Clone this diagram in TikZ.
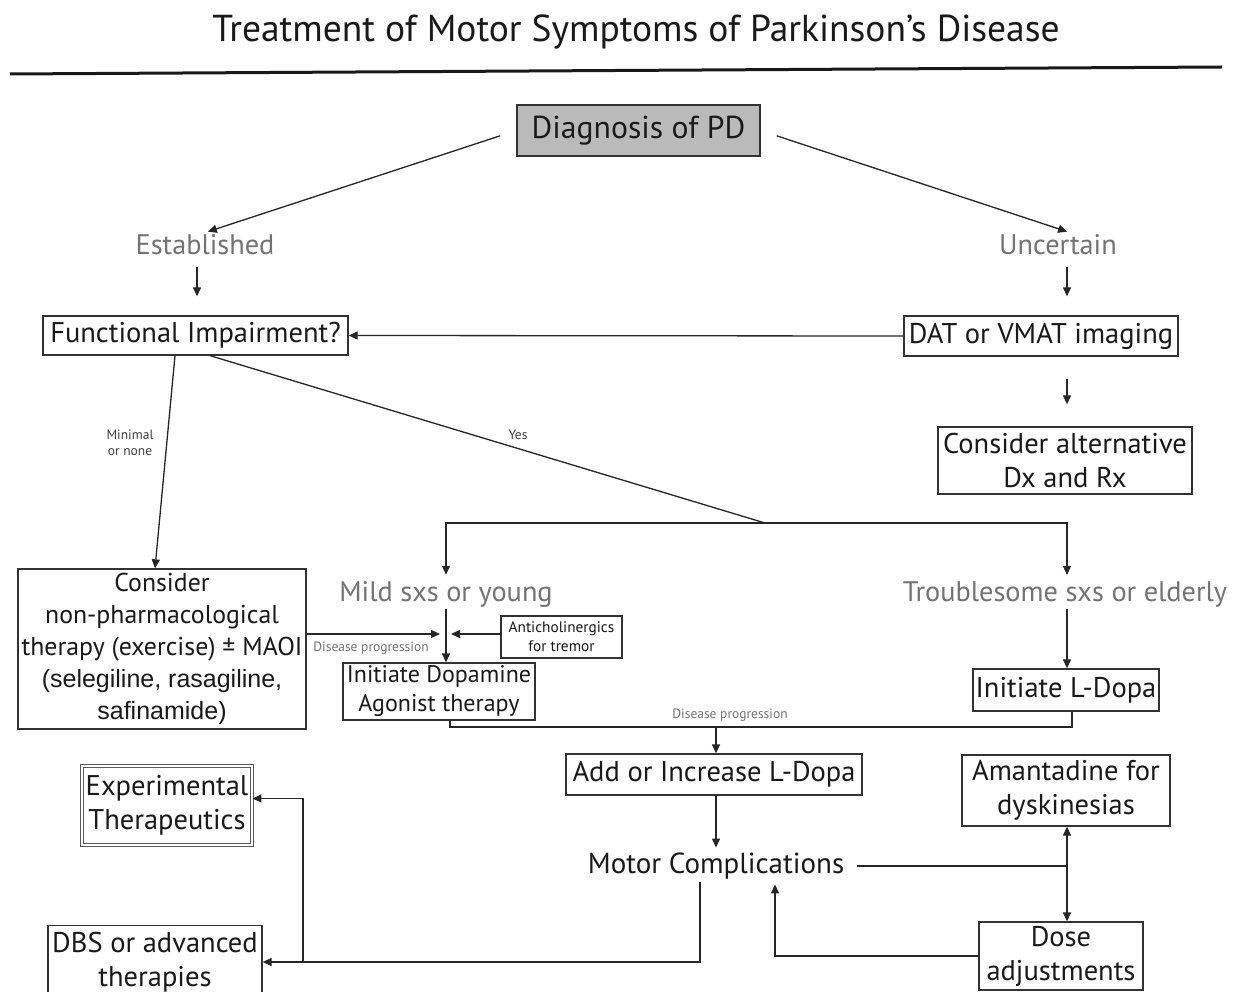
\documentclass[tikz,border=0pt]{standalone}
\usepackage{fontspec}
\setmainfont{PT Sans}
\newfontfamily\arialf{Liberation Sans}
\usetikzlibrary{arrows.meta,calc}
\begin{document}
\begin{tikzpicture}[x=1pt,y=-1pt,
 box/.style={draw=black!80, line width=1.3pt, align=center, inner sep=0pt, text=black!90, font=\fontsize{28.5}{34}\selectfont},
 lbl/.style={text=black!55, font=\fontsize{28.3}{32}\selectfont, inner sep=2pt},
 small/.style={font=\fontsize{13.5}{16}\selectfont, align=center, inner sep=1pt, text=black!75},
 arr/.style={-{Triangle[length=9pt,width=8pt]}, line width=1.3pt, draw=black!85},
 ln/.style={line width=1.3pt, draw=black!85},
]
\useasboundingbox (0,0) rectangle (1237,992);
\fill[white] (0,0) rectangle (1237,992);
% title
\node[font=\fontsize{37.5}{42}\selectfont, text=black!90] (title) at (636,32) {Treatment of Motor Symptoms of Parkinson’s Disease};
\draw[line width=3pt, black!90] (10,74) -- (1222,67);

% nodes
\node[box, minimum width=243pt, minimum height=51pt, fill=black!27, font=\fontsize{31.7}{36}\selectfont] (diag) at (638.5,130.5) {Diagnosis of PD};
\node[lbl] (est) at (205,245) {Established};
\node[lbl] (unc) at (1058,245) {Uncertain};
\node[box, minimum width=305pt, minimum height=39pt] (func) at (195.5,335.5) {Functional Impairment?};
\node[box, minimum width=274pt, minimum height=40pt] (dat) at (1041,336) {DAT or VMAT imaging};
\node[box, minimum width=254pt, minimum height=67pt] (alt) at (1065,460.5) {Consider alternative\\Dx and Rx};
\node[small] (minimal) at (130,443) {Minimal\\or none};
\node[small] (yes) at (518,435) {Yes};
\coordinate (split) at (765,523);
\node[lbl] (mild) at (446,594) {Mild sxs or young};
\node[lbl] (trouble) at (1065,594) {Troublesome sxs or elderly};
\node[box, minimum width=288pt, minimum height=160pt, font=\fontsize{25.8}{32}\selectfont] (cons) at (162,649) {Consider\\non-pharmacological\\therapy (exercise) ± MAOI\\{\arialf\fontsize{25}{29}\selectfont (selegiline, rasagiline,}\\{\arialf\fontsize{25}{29}\selectfont safinamide)}};
\coordinate (jn) at (446,634);
\node[box, minimum width=121pt, minimum height=42pt, font=\fontsize{15.3}{19}\selectfont] (anti) at (561.5,637) {Anticholinergics\\for tremor};
\node[small, text=black!55] (dp1) at (371,648) {Disease progression};
\node[box, minimum width=192pt, minimum height=57pt, font=\fontsize{24}{29}\selectfont] (dopa) at (439,691.5) {Initiate Dopamine\\Agonist therapy};
\node[box, minimum width=186pt, minimum height=42pt] (ldopa) at (1066,690) {Initiate L-Dopa};
\coordinate (dp) at (716,727);
\node[small, text=black!55] (dp2) at (730,715) {Disease progression};
\node[box, minimum width=296pt, minimum height=41pt] (add) at (714,774.5) {Add or Increase L-Dopa};
\node[box, minimum width=208pt, minimum height=71pt] (aman) at (1066,790.5) {Amantadine for\\dyskinesias};
\node[font=\fontsize{29}{32}\selectfont, text=black!90, inner sep=3pt] (motor) at (716,866) {Motor Complications};
\coordinate (mj) at (1067,866);
\node[box, minimum width=164pt, minimum height=68pt] (dose) at (1061,956) {Dose\\adjustments};
\node[box, minimum width=170pt, minimum height=79pt, draw=black!65, line width=0.9pt, double, double distance=2.2pt] (exp) at (167,805.5) {Experimental\\Therapeutics};
\node[box, minimum width=214pt, minimum height=73pt] (dbs) at (155,962) {DBS or advanced\\therapies};
\coordinate (br) at (303,962);

% connectors
\draw[arr, shorten <=17pt, shorten >=3pt] (diag.west) -- (est.north);
\draw[arr, shorten <=17pt, shorten >=3pt] (diag.east) -- ([xshift=12pt]unc.north);
\draw[arr, shorten <=10pt, shorten >=19pt] ([xshift=-8pt]est.south) -- ([xshift=-8pt]est.south |- func.north);
\draw[arr, shorten <=10pt, shorten >=19pt] ([xshift=9pt]unc.south) -- ([xshift=9pt]unc.south |- dat.north);
\draw[arr] (dat.west) -- (func.east);
\draw[arr, shorten <=22pt, shorten >=22pt] ([xshift=2pt]alt.north |- dat.south) -- ([xshift=2pt]alt.north);
\draw[arr] ([xshift=-20.5pt]func.south) -- ([xshift=-7pt]cons.north);
\draw[ln] ([xshift=14.5pt]func.south) -- (split);
\draw[arr, shorten >=4pt] (split) -| (mild.north);
\draw[arr, shorten >=4pt] (split) -| ([xshift=2pt]trouble.north);
\draw[arr] ([xshift=2pt]trouble.south) -- ([xshift=2pt]trouble.south |- ldopa.north);
\draw[arr, shorten >=6pt] (cons.east |- jn) -- (jn);
\draw[arr, shorten >=5pt] (anti.west |- jn) -- (jn);
\draw[arr] (mild.south) -- (mild.south |- dopa.north);
\draw[ln] ([xshift=11pt]dopa.south) -- ([xshift=11pt]dopa.south |- dp) -- ([xshift=6pt]ldopa.south |- dp) -- ([xshift=6pt]ldopa.south);
\draw[arr] (dp) -- (dp |- add.north);
\draw[arr, shorten >=2pt] ([xshift=2pt]add.south) -- ([xshift=2pt]add.south |- motor.north);
\draw[ln, shorten <=10pt] (motor.east) -- (mj);
\draw[arr] (mj) -- (mj |- aman.south);
\draw[arr] (mj) -- (mj |- dose.north);
\draw[arr, shorten >=2pt] (dose.west) -| ([xshift=59pt]motor.south);
\draw[arr] ([xshift=-16pt]motor.south) |- (dbs.east);
\draw[arr] (br) |- ([yshift=7pt]exp.east);
\end{tikzpicture}
\end{document}
